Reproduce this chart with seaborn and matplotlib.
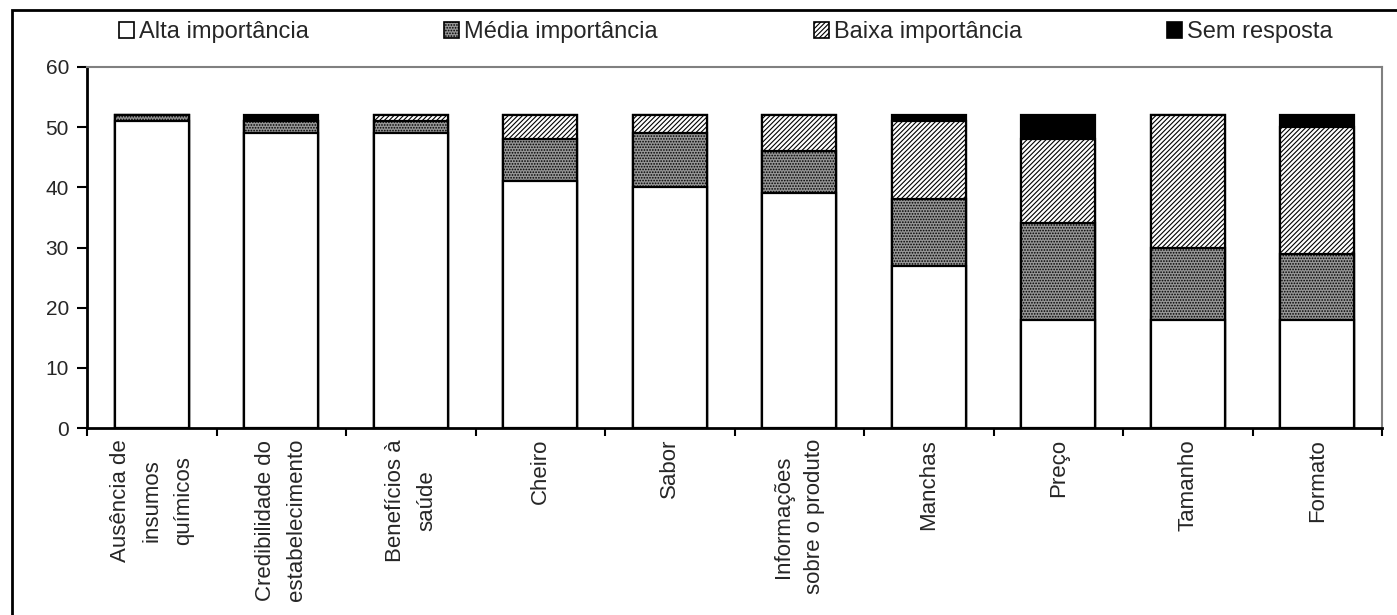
import matplotlib
matplotlib.use("Agg")
import matplotlib.pyplot as plt
from matplotlib.patches import Rectangle, Patch
import numpy as np
import pandas as pd
import seaborn as sns

categorias = [
    "Ausência de\ninsumos\nquímicos",
    "Credibilidade do\nestabelecimento",
    "Benefícios à\nsaúde",
    "Cheiro",
    "Sabor",
    "Informações\nsobre o produto",
    "Manchas",
    "Preço",
    "Tamanho",
    "Formato",
]
alta = [51, 49, 49, 41, 40, 39, 27, 18, 18, 18]
media = [1, 2, 2, 7, 9, 7, 11, 16, 12, 11]
baixa = [0, 0, 1, 4, 3, 6, 13, 14, 22, 21]
sem_resposta = [0, 1, 0, 0, 0, 0, 1, 4, 0, 2]

series = ["Alta importância", "Média importância", "Baixa importância", "Sem resposta"]
y_ticks = [0, 10, 20, 30, 40, 50, 60]

sns.set_theme(style="white")
plt.rcParams["font.family"] = ["Liberation Sans", "DejaVu Sans"]
plt.rcParams["hatch.linewidth"] = 0.8

df = pd.DataFrame({
    "categoria": categorias,
    "alta": alta,
    "media": media,
    "baixa": baixa,
    "sem": sem_resposta,
})
df["c1"] = df["alta"]
df["c2"] = df["c1"] + df["media"]
df["c3"] = df["c2"] + df["baixa"]
df["c4"] = df["c3"] + df["sem"]

W, H = 1397, 615
fig = plt.figure(figsize=(W / 100, H / 100), dpi=100)
ax = fig.add_axes([87 / W, 1 - 428 / H, (1382 - 87) / W, (428 - 67) / H])

CINZA = "#969696"
# cumulative layers drawn from the top of the stack downwards
estilos = {
    "c4": dict(color="black", hatch=None),
    "c3": dict(color="white", hatch="///////"),
    "c2": dict(color=CINZA, hatch="......"),
    "c1": dict(color="white", hatch=None),
}

largura = 0.57
for col in ["c4", "c3", "c2", "c1"]:
    st = estilos[col]
    sns.barplot(data=df, x="categoria", y=col, ax=ax, color=st["color"],
                saturation=1, width=largura, edgecolor="black", linewidth=1.6,
                hatch=st["hatch"], order=categorias)

ax.set_xlim(-0.5, len(categorias) - 0.5)
ax.set_ylim(0, 60)
ax.set_yticks(y_ticks)
ax.set_yticklabels([str(v) for v in y_ticks], fontsize=15)
ax.set_xlabel("")
ax.set_ylabel("")

ax.set_xticks(np.arange(len(categorias)))
ax.set_xticklabels(categorias, rotation=90, fontsize=16, ha="center",
                   va="top", multialignment="center", linespacing=1.65)
ax.set_xticks(np.arange(len(categorias) + 1) - 0.5, minor=True)
ax.tick_params(axis="x", which="major", length=0, pad=8)
ax.tick_params(axis="x", which="minor", length=6, width=1.5, color="black",
               direction="out", bottom=True)
ax.tick_params(axis="y", length=7, width=1.5, color="black", direction="out",
               left=True, pad=6)

for s in ["left", "bottom"]:
    ax.spines[s].set_color("black")
    ax.spines[s].set_linewidth(2)
for s in ["top", "right"]:
    ax.spines[s].set_color("#808080")
    ax.spines[s].set_linewidth(1.5)

handles = [
    Patch(facecolor="white", edgecolor="black", linewidth=1.2),
    Patch(facecolor=CINZA, edgecolor="black", hatch="......", linewidth=1.2),
    Patch(facecolor="white", edgecolor="black", hatch="///////", linewidth=1.2),
    Patch(facecolor="black", edgecolor="black", linewidth=1.2),
]
legenda_x = [119, 444, 814, 1167]
for h, nome, x in zip(handles, series, legenda_x):
    fig.legend([h], [nome], loc="center left",
               bbox_to_anchor=(x / W, 1 - 32 / H),
               frameon=False, fontsize=17, handlelength=0.65,
               handleheight=0.65, handletextpad=0.2, borderpad=0,
               borderaxespad=0)

# figure border
fig.patches.append(Rectangle((12 / W, -0.1), 1.2, 1 - 10 / H + 0.1,
                             transform=fig.transFigure, fill=False,
                             edgecolor="black", linewidth=2))

fig.savefig("out.png", dpi=100)
